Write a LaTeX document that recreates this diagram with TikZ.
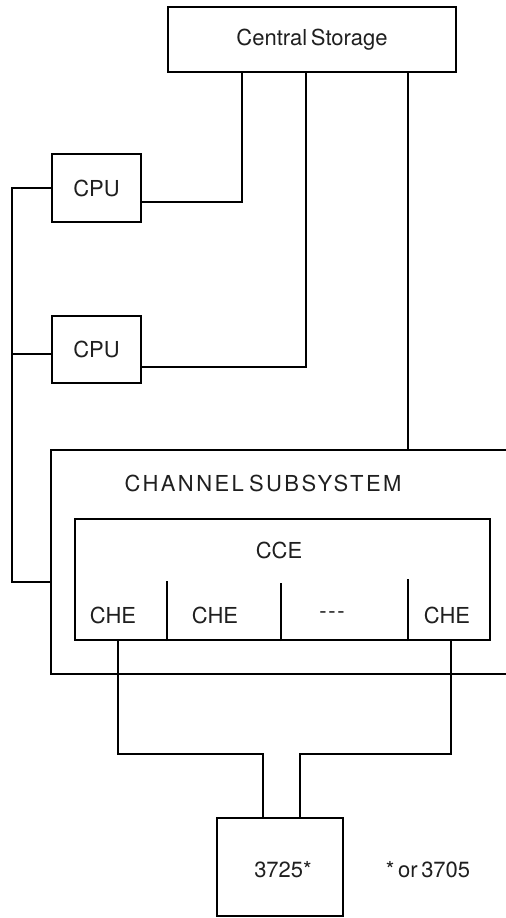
\documentclass[tikz,border=0pt]{standalone}
\usepackage{fontspec}
\setmainfont{TeX Gyre Heros}[WordSpace=0.6]
\usetikzlibrary{calc}
\newdimen\px \px=0.75pt
\begin{document}
\begin{tikzpicture}[x=0.75pt,y=-0.75pt,
  line width=1.5pt, line join=miter,
  box/.style={draw, rectangle, inner sep=0pt},
  lbl/.style={inner sep=0pt, font=\fontsize{16.5}{20}\selectfont, text=black!88}]
\clip (0,0) rectangle (506,918);
\fill[white] (0,0) rectangle (506,918);
% boxes
\node[box, minimum width=288\px, minimum height=65\px] (cs) at (312,39.5) {};
\node[lbl] (cstext) at (cs.center) {Central Storage};
\node[box, minimum width=89\px, minimum height=68\px] (cpu1) at (96.5,188) {};
\node[lbl] (cpu1t) at (cpu1.center) {CPU};
\node[box, minimum width=89\px, minimum height=67\px] (cpu2) at (96.5,349.5) {};
\node[lbl] (cpu2t) at (cpu2.center) {CPU};
\node[box, minimum width=549\px, minimum height=224\px] (chs) at (325.5,562) {};
\node[lbl] (chst) at (263,483) {\addfontfeature{LetterSpace=11}CHANNEL SUBSYSTEM};
\node[box, minimum width=415\px, minimum height=121\px] (cce) at (282.5,579.5) {};
\node[lbl] (ccet) at (279,550) {CCE};
\node[lbl] (che1) at (113,615) {CHE};
\node[lbl] (che2) at (215,615) {CHE};
\node[lbl] (chd) at (332,615) {-\kern1.2pt-\kern1.2pt-};
\node[lbl] (che4) at (447,615) {CHE};
\node[box, minimum width=126\px, minimum height=98\px] (dev) at (280,867) {};
\node[lbl] (devt) at (283,870) {3725*};
\node[lbl] (note) at (428,870) {* or 3705};
% dividers
\draw ([xshift=-115.5\px]cce.south) -- ++(0,-60);
\draw ([xshift=-1.5\px]cce.south) -- ++(0,-58);
\draw ([xshift=125.5\px]cce.south) -- ++(0,-62);
% connectors from central storage
\draw ([yshift=-14\px]cpu1.east) -| ([xshift=-70\px]cs.south);
\draw ([yshift=-17.5\px]cpu2.east) -| ([xshift=-6\px]cs.south);
\coordinate (csR) at ([xshift=96\px]cs.south);
\draw (csR) -- (csR |- chs.north);
% left bus
\coordinate (bus) at (12,0);
\coordinate (chsL) at ([yshift=-20\px]chs.west);
\coordinate (cpu2w) at ([yshift=-4.5\px]cpu2.west);
\draw (cpu1.west) -| (bus |- chsL) -- (chsL);
\draw (cpu2w) -- (bus |- cpu2w);
% channel paths to device
\draw ([xshift=-164.5\px]cce.south) -- ++(0,113) -| ([xshift=-17\px]dev.north);
\draw ([xshift=168.5\px]cce.south) -- ++(0,113) -| ([xshift=20\px]dev.north);
\end{tikzpicture}
\end{document}
